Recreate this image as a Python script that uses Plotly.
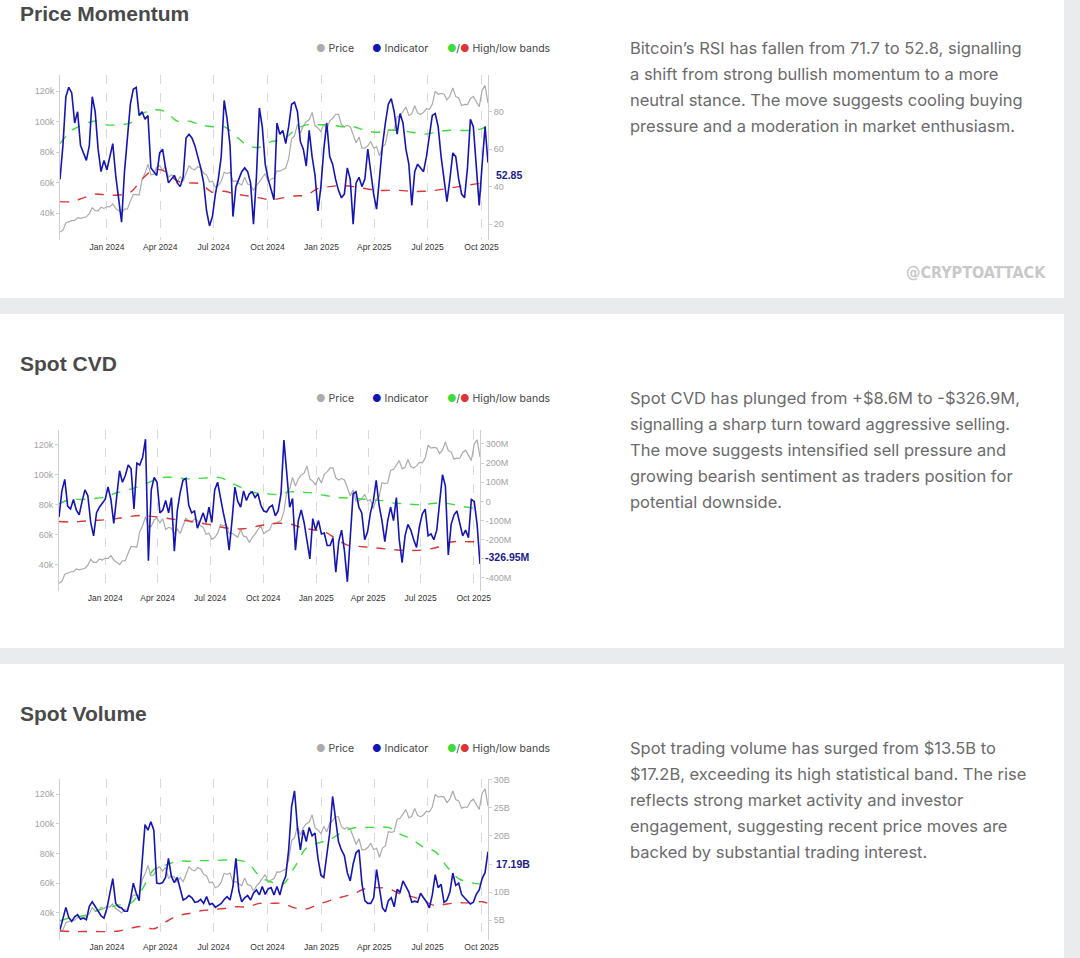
import pandas as pd
import plotly.graph_objects as go

# --- data -------------------------------------------------------------------
START = "2023-10-13"
END = "2025-10-12"

# BTC price, thousands of USD, one value every 5 days from START
price_k = [
    27.5, 28.6, 33.5, 34.3, 35.0, 35.2, 37.0, 36.5, 37.2, 37.5,
    39.5, 43.5, 41.5, 41.4, 43.8, 43.0, 44.2, 44.0, 46.0, 43.0,
    41.6, 40.0, 42.5, 42.6, 47.8, 52.0, 52.0, 51.7, 62.0, 66.0,
    72.0, 65.0, 65.5, 70.0, 71.0, 68.0, 70.6, 63.4, 64.9, 64.3,
    60.6, 63.8, 60.8, 66.0, 71.0, 69.0, 68.3, 70.5, 69.6, 66.0,
    65.0, 60.3, 60.9, 57.0, 58.0, 60.8, 66.7, 65.9, 66.8, 60.7,
    61.0, 59.5, 58.4, 63.5, 59.0, 58.5, 54.8, 58.1, 60.3, 63.3,
    65.8, 60.6, 62.2, 63.0, 67.6, 67.4, 68.5, 69.5, 75.6, 88.7,
    90.6, 98.3, 92.5, 97.2, 99.9, 101.1, 106.0, 97.2, 95.8, 93.4,
    98.3, 94.5, 100.5, 102.0, 104.7, 104.7, 98.0, 96.5, 97.5, 96.6,
    91.4, 86.0, 89.9, 82.5, 82.6, 84.0, 86.9, 82.5, 83.5, 77.5,
    83.6, 85.1, 94.7, 94.2, 94.7, 103.0, 103.7, 106.8, 109.5, 104.0,
    105.0, 110.3, 105.6, 104.6, 106.0, 108.4, 108.0, 111.3, 119.8, 117.9,
    118.4, 117.9, 114.2, 116.7, 122.0, 116.3, 115.4, 110.5, 111.2, 111.1,
    115.0, 116.5, 112.7, 109.7, 120.6, 123.5, 112.0,
]

rsi = [
    44, 62, 88, 93, 90, 74, 80, 62, 58, 54,
    62, 88, 80, 60, 48, 54, 49, 56, 63, 46,
    32, 21, 48, 68, 84, 92, 93, 78, 80, 76,
    78, 50, 48, 46, 58, 60, 50, 42, 44, 46,
    42, 40, 45, 66, 68, 66, 62, 56, 50, 42,
    27, 19, 24, 36, 44, 56, 86, 76, 62, 24,
    40, 44, 48, 50, 48, 42, 20, 45, 82, 72,
    52, 44, 38, 33, 74, 68, 70, 63, 72, 84,
    85, 80, 64, 60, 51, 70, 56, 46, 27, 40,
    60, 74, 56, 52, 44, 38, 34, 36, 50, 44,
    20, 42, 45, 40, 44, 60, 48, 36, 28, 45,
    62, 74, 84, 87, 80, 68, 79, 74, 60, 52,
    30, 48, 52, 50, 48, 56, 68, 78, 79, 72,
    56, 44, 32, 44, 58, 56, 44, 36, 34, 50,
    76, 72, 48, 30, 52, 72, 52.85,
]

cvd_m = [
    -82, 55, 115, -25, -40, 10, -45, -70, 0, 60,
    30, -110, -180, -60, -30, -10, 10, 75, 10, -115,
    40, 160, 100, 135, 190, 170, -40, 200, 190, 230,
    325, -310, 60, 125, 100, -60, -45, 5, -60, 20,
    -260, -50, 45, 110, 120, -20, -60, -50, -140, -100,
    -60, -110, -30, -110, 60, 100, 10, -60, -130, -255,
    -100, 75, 0, -30, 55, 5, 40, 50, 20, 40,
    -20, -50, -55, -30, -20, -75, -50, 40, 320, 120,
    -30, 15, -255, -100, -45, -110, -200, -300, -90, -150,
    -100, -170, -165, -230, -230, -190, -370, -210, -150, -260,
    -420, -160, 40, 50, -30, -60, -200, -160, -60, 0,
    110, -20, -100, -210, -100, -30, -100, 20, -200, -320,
    -180, -120, -150, -200, -240, -130, -65, -40, -180, -170,
    -200, -150, -20, 140, 80, -280, -120, -70, -50, -110,
    -180, -150, -190, 10, 0, -120, -326.95,
]

volume_b = [
    3.3, 5.5, 7.3, 5.5, 4.8, 5.6, 6.0, 5.2, 5.4, 5.1,
    7.5, 8.3, 7.5, 6.6, 5.8, 5.4, 7.1, 9.8, 12.4, 8.0,
    7.4, 7.2, 6.6, 6.6, 8.6, 11.6, 9.8, 8.5, 16.0, 22.0,
    21.0, 22.5, 21.0, 11.6, 11.5, 11.7, 12.6, 16.0, 12.8, 11.7,
    12.6, 10.4, 8.6, 8.9, 9.4, 9.0, 8.2, 8.3, 8.7, 8.0,
    9.2, 7.8, 8.0, 7.3, 7.6, 8.0, 8.7, 9.2, 8.6, 11.0,
    16.0, 10.2, 8.3, 9.0, 9.4, 8.6, 9.8, 10.4, 9.5, 11.0,
    9.6, 10.6, 10.8, 9.5, 11.0, 9.5, 11.6, 12.8, 17.5, 25.2,
    28.0, 21.5, 17.5, 21.0, 19.0, 21.5, 20.0, 20.5, 16.0, 13.0,
    12.6, 16.3, 20.5, 27.0, 23.0, 19.0, 17.5, 16.5, 13.5, 12.0,
    15.0, 17.0, 17.5, 11.5, 8.5, 8.0, 8.0, 9.0, 14.0, 10.5,
    7.2, 6.5, 8.5, 9.0, 7.4, 10.5, 10.0, 12.0, 11.0, 10.0,
    8.2, 8.4, 8.2, 9.8, 9.0, 8.3, 7.2, 9.5, 13.1, 10.8,
    11.4, 8.2, 8.6, 10.0, 13.4, 11.2, 11.6, 9.6, 9.0, 8.4,
    7.9, 8.2, 9.6, 10.4, 12.4, 13.5, 17.19,
]

# high / low statistical bands, one value every 20 days plus the last day
rsi_high = [63, 70, 73, 75, 73, 73, 74, 79, 81, 80, 75, 75, 73, 72, 72, 67, 62, 61, 64,
            65, 70, 73, 73, 73, 72, 72, 70, 69, 70, 70, 69, 68, 69, 70, 70, 70, 71, 73]
rsi_low = [32, 32, 34, 36, 35.5, 35.5, 37, 44, 49, 48, 43, 42, 41.5, 37, 37.5, 36, 35, 34, 33,
           34, 35, 35.5, 39, 40, 40.5, 40, 39, 38, 38, 38, 37.5, 37.5, 38, 39, 40, 41, 42, 42.6]
cvd_high = [-12, 10, 10, 15, 23, 45, 60, 80, 105, 125, 125, 118, 120, 124, 124, 95, 68, 45, 40,
            36, 50, 48, 44, 32, 22, 18, 14, 8, 4, -9, -12, -17, -14, -8, -14, -27, -35, -38]
cvd_low = [-105, -108, -104, -100, -96, -90, -80, -74, -78, -85, -94, -100, -110, -120, -134,
           -142, -143, -132, -120, -114, -118, -136, -148, -158, -195, -228, -235, -240, -246,
           -252, -256, -256, -250, -236, -212, -210, -211, -211]
vol_high = [4.9, 5.5, 5.8, 6.6, 7.2, 7.7, 8.0, 10.5, 14.0, 14.8, 15.5, 15.5, 15.6, 15.6, 15.7,
            15.7, 15.2, 12.9, 11.8, 11.4, 14.4, 17.8, 18.7, 19.3, 20.6, 21.4, 21.5, 21.5, 21.5,
            20.3, 19.4, 18.0, 17.2, 14.5, 12.4, 11.7, 11.5, 11.9]
vol_low = [3.1, 3.0, 3.0, 3.0, 3.0, 3.1, 3.6, 3.9, 3.5, 4.7, 5.8, 6.2, 6.7, 6.9, 7.1, 7.4, 7.4,
           8.0, 8.0, 8.0, 7.2, 7.0, 7.8, 8.5, 9.1, 9.7, 10.6, 10.8, 10.6, 9.7, 9.2, 8.5, 7.6,
           7.9, 8.1, 8.1, 8.3, 8.0]

date_ticks = ["2024-01-01", "2024-04-01", "2024-07-01", "2024-10-01",
              "2025-01-01", "2025-04-01", "2025-07-01", "2025-10-01"]
date_labels = ["Jan 2024", "Apr 2024", "Jul 2024", "Oct 2024",
               "Jan 2025", "Apr 2025", "Jul 2025", "Oct 2025"]
price_ticks = [40, 60, 80, 100, 120]
price_labels = ["40k", "60k", "80k", "100k", "120k"]

dates = pd.date_range(START, periods=len(price_k), freq="5D")
band_dates = list(pd.date_range(START, periods=37, freq="20D")) + [pd.Timestamp(END)]

W, H = 1080, 958


def px(x):
    return x / W


def py(y):
    return 1 - y / H


GREY = "#ababab"
BLUE = "#1515b4"
GREEN = "#3ddc3d"
RED = "#dd3535"

panels = [
    dict(title="Price Momentum", ind=rsi, hi=rsi_high, lo=rsi_low,
         x0=60, x1=488, top=75, bottom=240, title_y=14, legend_y=48,
         left_range=[22.3, 130.5], right_range=[11.5, 99.6],
         right_ticks=[20, 40, 60, 80], right_text=["20", "40", "60", "80"],
         end_label="52.85", end_shift=(6, -12),
         text=["Bitcoin\u2019s RSI has fallen from 71.7 to 52.8, signalling",
               "a shift from strong bullish momentum to a more",
               "neutral stance. The move suggests cooling buying",
               "pressure and a moderation in market enthusiasm."]),
    dict(title="Spot CVD", ind=cvd_m, hi=cvd_high, lo=cvd_low,
         x0=59, x1=480, top=430, bottom=591, title_y=363, legend_y=398,
         left_range=[22.3, 130.0], right_range=[-468, 373],
         right_ticks=[-400, -300, -200, -100, 0, 100, 200, 300],
         right_text=["-400M", "", "-200M", "-100M", "0", "100M", "200M", "300M"],
         end_label="-326.95M", end_shift=(3, 7),
         text=["Spot CVD has plunged from +$8.6M to -$326.9M,",
               "signalling a sharp turn toward aggressive selling.",
               "The move suggests intensified sell pressure and",
               "growing bearish sentiment as traders position for",
               "potential downside."]),
    dict(title="Spot Volume", ind=volume_b, hi=vol_high, lo=vol_low,
         x0=60, x1=488, top=779, bottom=940, title_y=713, legend_y=748,
         left_range=[21.8, 130.1], right_range=[1.5, 30.1],
         right_ticks=[5, 10, 15, 20, 25, 30],
         right_text=["5B", "10B", "", "20B", "25B", "30B"],
         end_label="17.19B", end_shift=(6, -12),
         text=["Spot trading volume has surged from $13.5B to",
               "$17.2B, exceeding its high statistical band. The rise",
               "reflects strong market activity and investor",
               "engagement, suggesting recent price moves are",
               "backed by substantial trading interest."]),
]

fig = go.Figure()
layout = dict()
annotations = []
shapes = []

# cards
for y0, y1 in [(-20, 298), (314, 648), (664, 990)]:
    shapes.append(dict(type="rect", xref="paper", yref="paper",
                       x0=0, x1=px(1064), y0=py(y1), y1=py(y0),
                       fillcolor="white", line_width=0, layer="below"))

axis_font = dict(family="Liberation Sans", size=9, color="#a3a3a3")

for n, p in enumerate(panels):
    xa = "x" if n == 0 else f"x{n + 1}"
    ya_left = "y" if n == 0 else f"y{2 * n + 1}"
    ya_right = f"y{2 * n + 2}"
    xkey = "xaxis" if n == 0 else f"xaxis{n + 1}"
    ylkey = "yaxis" if n == 0 else f"yaxis{2 * n + 1}"
    yrkey = f"yaxis{2 * n + 2}"

    layout[xkey] = dict(domain=[px(p["x0"]), px(p["x1"])], anchor=ya_left, type="date",
                        range=[START, END], tickvals=date_ticks, ticktext=date_labels,
                        showgrid=True, gridcolor="#d9d9d9", griddash="dash", gridwidth=1,
                        showline=False, zeroline=False, ticks="", automargin=False,
                        tickfont=dict(family="Liberation Sans", size=8.5, color="#333333"))
    layout[ylkey] = dict(domain=[py(p["bottom"]), py(p["top"])], anchor=xa,
                         range=p["left_range"], tickvals=price_ticks, ticktext=price_labels,
                         showgrid=False, zeroline=False, showline=True, linecolor="#cfcfcf",
                         ticks="outside", ticklen=3, tickcolor="#cfcfcf", tickfont=axis_font,
                         automargin=False)
    layout[yrkey] = dict(overlaying=ya_left, side="right", anchor=xa,
                         range=p["right_range"], tickvals=p["right_ticks"],
                         ticktext=p["right_text"], showgrid=False, zeroline=False,
                         showline=True, linecolor="#cfcfcf", ticks="outside", ticklen=3,
                         tickcolor="#cfcfcf", tickfont=axis_font, automargin=False)

    fig.add_trace(go.Scatter(x=dates, y=price_k, xaxis=xa, yaxis=ya_left, mode="lines",
                             line=dict(color=GREY, width=1.2)))
    fig.add_trace(go.Scatter(x=band_dates, y=p["hi"], xaxis=xa, yaxis=ya_right, mode="lines",
                             line=dict(color=GREEN, width=1.4, dash="dash", shape="spline")))
    fig.add_trace(go.Scatter(x=band_dates, y=p["lo"], xaxis=xa, yaxis=ya_right, mode="lines",
                             line=dict(color=RED, width=1.4, dash="dash", shape="spline")))
    fig.add_trace(go.Scatter(x=dates, y=p["ind"], xaxis=xa, yaxis=ya_right, mode="lines",
                             line=dict(color=BLUE, width=1.6)))

    # title
    annotations.append(dict(text=f"<b>{p['title']}</b>", xref="paper", yref="paper",
                            x=px(18), y=py(p["title_y"]), xanchor="left", yanchor="middle",
                            showarrow=False,
                            font=dict(family="Liberation Sans", size=21, color="#4a4a4a")))
    # legend
    lf = dict(family="Inter", size=10.5, color="#444444")
    for lx, txt in [(314, f"<span style='color:{GREY}'>\u25cf</span> Price"),
                    (370, f"<span style='color:{BLUE}'>\u25cf</span> Indicator"),
                    (445, f"<span style='color:{GREEN}'>\u25cf</span>/"
                          f"<span style='color:{RED}'>\u25cf</span> High/low bands")]:
        annotations.append(dict(text=txt, xref="paper", yref="paper", x=px(lx),
                                y=py(p["legend_y"]), xanchor="left", yanchor="middle",
                                showarrow=False, font=lf))
    # last value label
    annotations.append(dict(text=f"<b>{p['end_label']}</b>", xref=f"{xa} domain", yref=ya_right,
                            x=1, y=p["ind"][-1], xanchor="left", yanchor="middle",
                            xshift=p["end_shift"][0], yshift=p["end_shift"][1], showarrow=False,
                            font=dict(family="Liberation Sans", size=10.5, color="#1c1c8c")))
    # commentary
    for k, line in enumerate(p["text"]):
        annotations.append(dict(text=line, xref="paper", yref="paper", x=px(628),
                                y=py(p["legend_y"] + 26 * k), xanchor="left", yanchor="middle",
                                showarrow=False,
                                font=dict(family="Inter", size=16.5, color="#6b6b6b")))

annotations.append(dict(text="<b>@CRYPTOATTACK</b>", xref="paper", yref="paper",
                        x=px(1048), y=py(273), xanchor="right", yanchor="middle",
                        showarrow=False,
                        font=dict(family="DejaVu Sans Condensed", size=16, color="#c9c9c9")))

fig.update_layout(width=W, height=H, margin=dict(l=0, r=0, t=0, b=0, autoexpand=False),
                  paper_bgcolor="#e9ebec", plot_bgcolor="white", showlegend=False,
                  hovermode=False, annotations=annotations, shapes=shapes, **layout)

fig.write_html("out.html", config={"displayModeBar": False},
               post_script="document.documentElement.style.overflow='hidden';"
                           "document.body.style.margin='0';"
                           "document.body.style.overflow='hidden';")
